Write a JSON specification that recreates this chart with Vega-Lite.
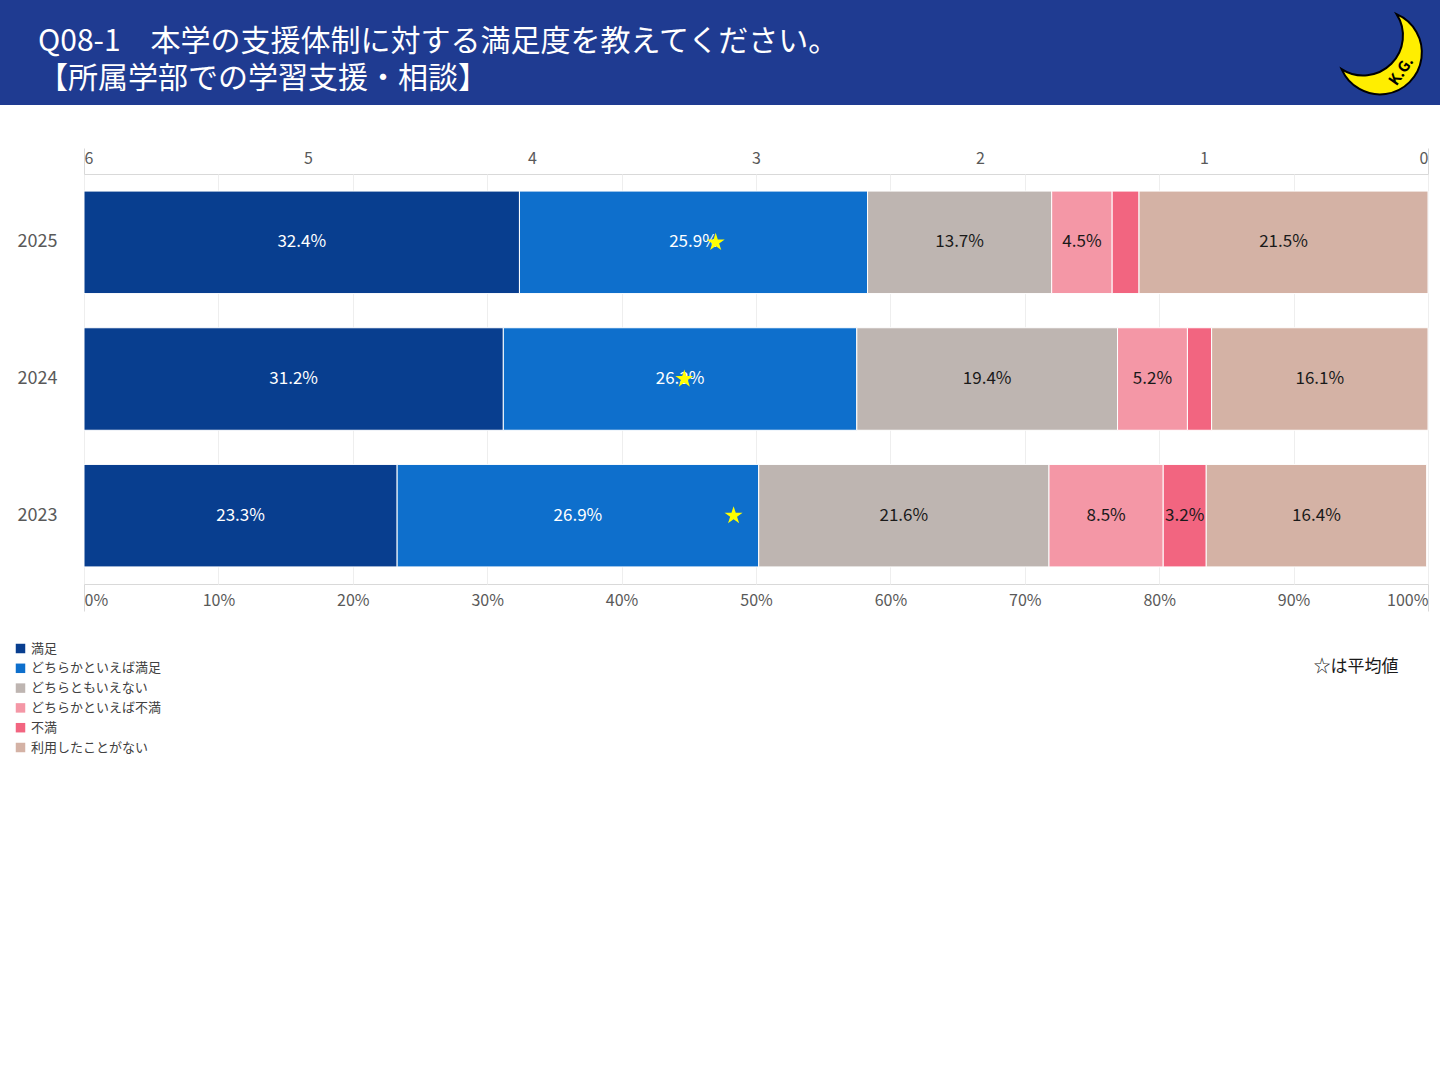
{
  "$schema": "https://vega.github.io/schema/vega-lite/v6.json",
  "padding": 0,
  "background": "white",
  "config": {"font": "Noto Sans CJK JP", "view": {"stroke": null}},
  "datasets": {
    "answers": [
      {"year": "2025", "cat": "満足", "pct": 0.324},
      {"year": "2025", "cat": "どちらかといえば満足", "pct": 0.259},
      {"year": "2025", "cat": "どちらともいえない", "pct": 0.137},
      {"year": "2025", "cat": "どちらかといえば不満", "pct": 0.045},
      {"year": "2025", "cat": "不満", "pct": 0.020},
      {"year": "2025", "cat": "利用したことがない", "pct": 0.215},
      {"year": "2024", "cat": "満足", "pct": 0.312},
      {"year": "2024", "cat": "どちらかといえば満足", "pct": 0.263},
      {"year": "2024", "cat": "どちらともいえない", "pct": 0.194},
      {"year": "2024", "cat": "どちらかといえば不満", "pct": 0.052},
      {"year": "2024", "cat": "不満", "pct": 0.018},
      {"year": "2024", "cat": "利用したことがない", "pct": 0.161},
      {"year": "2023", "cat": "満足", "pct": 0.233},
      {"year": "2023", "cat": "どちらかといえば満足", "pct": 0.269},
      {"year": "2023", "cat": "どちらともいえない", "pct": 0.216},
      {"year": "2023", "cat": "どちらかといえば不満", "pct": 0.085},
      {"year": "2023", "cat": "不満", "pct": 0.032},
      {"year": "2023", "cat": "利用したことがない", "pct": 0.164}
    ],
    "average": [
      {"year": "2025", "avg": 3.18},
      {"year": "2024", "avg": 3.32},
      {"year": "2023", "avg": 3.10}
    ],
    "logo": [{"label": "K.G."}]
  },
  "spacing": 42,
  "vconcat": [
    {
      "spacing": 0,
      "hconcat": [
        {
          "width": 1320,
          "height": 105,
          "view": {"fill": "#1f3b91", "stroke": null},
          "title": {
            "text": ["Q08-1　本学の支援体制に対する満足度を教えてください。", "【所属学部での学習支援・相談】"],
            "anchor": "start",
            "frame": "group",
            "orient": "top",
            "baseline": "top",
            "offset": -94,
            "dx": 38,
            "fontSize": 30,
            "fontWeight": "normal",
            "lineHeight": 37,
            "color": "#ffffff"
          },
          "data": {"values": [{}]},
          "mark": {"type": "point", "opacity": 0}
        },
        {
          "width": 120,
          "height": 105,
          "view": {"fill": "#1f3b91", "stroke": null},
          "data": {"name": "logo"},
          "layer": [
            {
              "mark": {
                "type": "point",
                "shape": "M0.396,-0.918A1,1,0,1,1,-0.918,0.396A0.95,0.95,0,0,0,0.396,-0.918Z",
                "size": 7000,
                "filled": true,
                "fill": "#ffee00",
                "stroke": "#000000",
                "strokeWidth": 2,
                "opacity": 1
              }
            },
            {
              "mark": {"type": "text", "angle": -55, "dx": -3, "dy": 28, "fontSize": 15, "fontWeight": "bold", "color": "#000000"},
              "encoding": {"text": {"field": "label"}}
            }
          ]
        }
      ]
    },
    {
      "spacing": 0,
      "hconcat": [
        {
          "width": 16,
          "height": 10,
          "data": {"values": [{}]},
          "mark": {"type": "point", "opacity": 0}
        },
        {
          "width": 1344,
          "height": 410,
          "view": {"stroke": "#d9d9d9"},
          "encoding": {
            "y": {
              "field": "year",
              "type": "nominal",
              "sort": "descending",
              "scale": {"paddingInner": 0.25, "paddingOuter": 0.125},
              "axis": {"title": null, "ticks": false, "domain": false, "labelPadding": 27, "labelFontSize": 18, "labelColor": "#595959"}
            }
          },
          "layer": [
            {
              "data": {"name": "answers"},
              "transform": [
                {"calculate": "indexof(['満足','どちらかといえば満足','どちらともいえない','どちらかといえば不満','不満','利用したことがない'], datum.cat)", "as": "rank"},
                {"stack": "pct", "groupby": ["year"], "sort": [{"field": "rank", "order": "ascending"}], "as": ["x0", "x1"]},
                {"calculate": "(datum.x0 + datum.x1) / 2", "as": "xm"}
              ],
              "layer": [
                {
                  "mark": {"type": "bar", "stroke": "#ffffff", "strokeWidth": 1},
                  "encoding": {
                    "x": {
                      "field": "x0",
                      "type": "quantitative",
                      "scale": {"domain": [0, 1]},
                      "axis": {
                        "orient": "bottom",
                        "values": [0, 0.1, 0.2, 0.3, 0.4, 0.5, 0.6, 0.7, 0.8, 0.9, 1],
                        "format": "%",
                        "labelFlush": true,
                        "labelFontSize": 16,
                        "labelColor": "#595959",
                        "labelPadding": -19,
                        "domain": false,
                        "grid": true,
                        "gridColor": "#eeeeee",
                        "tickSize": 27,
                        "tickColor": "#d9d9d9",
                        "tickOpacity": {"condition": {"test": "datum.value === 0 || datum.value === 1", "value": 1}, "value": 0},
                        "title": "☆は平均値",
                        "titleFontSize": 17,
                        "titleFontWeight": "normal",
                        "titleColor": "#1a1a1a",
                        "titleAlign": "right",
                        "titleBaseline": "middle",
                        "titleX": 1314,
                        "titleY": 82
                      }
                    },
                    "x2": {"field": "x1"},
                    "color": {
                      "field": "cat",
                      "type": "nominal",
                      "scale": {
                        "domain": ["満足", "どちらかといえば満足", "どちらともいえない", "どちらかといえば不満", "不満", "利用したことがない"],
                        "range": ["#083e8f", "#0e6fcc", "#beb5b1", "#f497a6", "#f26580", "#d4b2a5"]
                      },
                      "legend": {
                        "title": null,
                        "orient": "none",
                        "legendX": 14,
                        "legendY": 642,
                        "padding": 0,
                        "symbolType": "square",
                        "symbolSize": 90,
                        "symbolStrokeWidth": 0,
                        "labelOffset": 4,
                        "labelFontSize": 13,
                        "labelColor": "#404040",
                        "rowPadding": 5.8
                      }
                    }
                  }
                },
                {
                  "transform": [{"filter": "datum.pct >= 0.03"}],
                  "mark": {"type": "text", "fontSize": 17},
                  "encoding": {
                    "x": {"field": "xm", "type": "quantitative"},
                    "text": {"field": "pct", "type": "quantitative", "format": ".1%"},
                    "color": {"condition": {"test": "datum.rank < 2", "value": "#ffffff"}, "value": "#1a1a1a"}
                  }
                }
              ]
            },
            {
              "data": {"name": "average"},
              "mark": {
                "type": "point",
                "shape": "M0,-1L0.2245,-0.309L0.951,-0.309L0.363,0.118L0.588,0.809L0,0.382L-0.588,0.809L-0.363,0.118L-0.951,-0.309L-0.2245,-0.309Z",
                "filled": true,
                "color": "#ffff00",
                "size": 360,
                "opacity": 1
              },
              "encoding": {
                "x": {
                  "field": "avg",
                  "type": "quantitative",
                  "scale": {"domain": [0, 6], "reverse": true},
                  "axis": {
                    "orient": "top",
                    "title": null,
                    "values": [0, 1, 2, 3, 4, 5, 6],
                    "labelFlush": true,
                    "labelFontSize": 16,
                    "labelColor": "#595959",
                    "labelPadding": -18,
                    "domain": false,
                    "grid": false,
                    "tickSize": 26,
                    "tickColor": "#d9d9d9",
                    "tickOpacity": {"condition": {"test": "datum.value === 0 || datum.value === 6", "value": 1}, "value": 0}
                  }
                }
              }
            }
          ],
          "resolve": {"scale": {"x": "independent"}}
        }
      ]
    }
  ]
}
